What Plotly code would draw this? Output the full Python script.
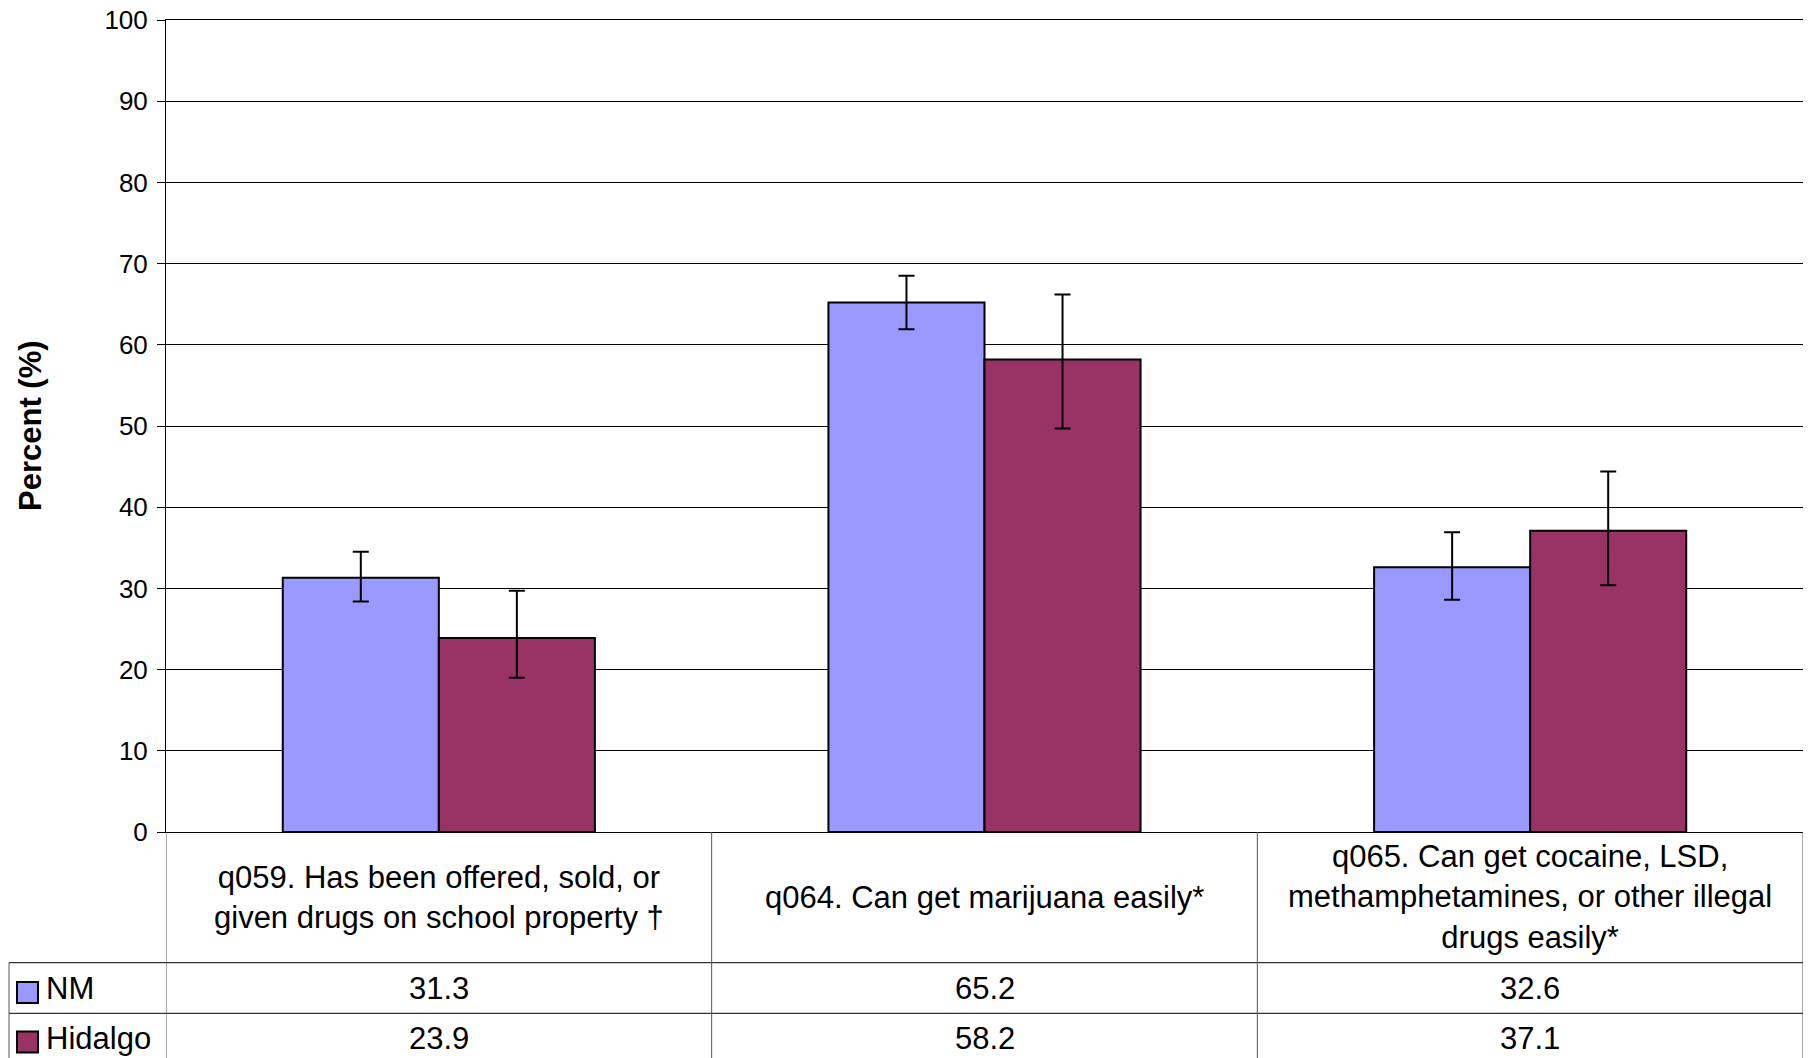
import plotly.graph_objects as go

# ---------------- data ----------------
categories = [
    "q059. Has been offered, sold, or<br>given drugs on school property †",
    "q064. Can get marijuana easily*",
    "q065. Can get cocaine, LSD,<br>methamphetamines, or other illegal<br>drugs easily*",
]
series_names = ["NM", "Hidalgo"]
nm_values = [31.3, 65.2, 32.6]
hidalgo_values = [23.9, 58.2, 37.1]
nm_ci_lower = [28.4, 61.9, 28.6]
nm_ci_upper = [34.5, 68.5, 36.9]
hidalgo_ci_lower = [19.0, 49.7, 30.4]
hidalgo_ci_upper = [29.7, 66.2, 44.4]
y_ticks = list(range(0, 101, 10))
y_title = "Percent (%)"

# ---------------- styles ----------------
colors = ["#9999FF", "#993366"]
FONT = "Arial, Liberation Sans, sans-serif"
# the page body has an 8px margin, so the figure is offset by 8px
OFF = 8
W, H = 1811 - OFF, 1058 - OFF
PLOT_L, PLOT_R, PLOT_T, PLOT_B = 166, 1803, 20, 832   # page pixels
ML = PLOT_L - OFF
MR = (W + OFF) - PLOT_R
MT = PLOT_T - OFF
MB = (H + OFF) - PLOT_B
plot_w = PLOT_R - PLOT_L
plot_h = PLOT_B - PLOT_T


def py(pix):
    """page pixel row -> paper y"""
    return (PLOT_B - pix) / plot_h


def px(pix):
    """page pixel column -> paper x"""
    return (pix - PLOT_L) / plot_w


fig = go.Figure()
series = [
    (nm_values, nm_ci_lower, nm_ci_upper),
    (hidalgo_values, hidalgo_ci_lower, hidalgo_ci_upper),
]
for name, color, (vals, lo, hi) in zip(series_names, colors, series):
    fig.add_trace(go.Bar(
        name=name,
        x=categories,
        y=vals,
        marker=dict(color=color, line=dict(color="black", width=2)),
        error_y=dict(
            type="data", symmetric=False,
            array=[h - v for h, v in zip(hi, vals)],
            arrayminus=[v - l for v, l in zip(vals, lo)],
            color="black", thickness=2, width=8,
        ),
        showlegend=False,
    ))

# ---------------- table below the plot ----------------
row1 = py(962.7)
row2 = py(1013.3)
bottom = py(1075)
table_left = px(9)
grid_h = dict(color="black", width=1)
grid_v = dict(color="#555555", width=1)
shapes = []
for yy in (row1, row2):
    shapes.append(dict(type="line", xref="paper", yref="paper",
                       x0=table_left, x1=1, y0=yy, y1=yy, line=grid_h))
shapes.append(dict(type="line", xref="paper", yref="paper",
                   x0=table_left, x1=table_left, y0=row1, y1=bottom, line=grid_v))
for xb in (-0.5, 0.5, 1.5, 2.5):
    shapes.append(dict(type="line", xref="x", yref="paper",
                       x0=xb, x1=xb, y0=0, y1=bottom, line=grid_v))

row_centers = [py(988), py(1038)]
swatch_tops = [982, 1031.5]
annotations = []
for i, cat in enumerate(categories):
    annotations.append(dict(x=i, y=py(897), xref="x", yref="paper",
                            text=cat, showarrow=False, align="center",
                            xanchor="center", yanchor="middle",
                            font=dict(family=FONT, size=31, color="black")))
for r, (name, color, (vals, lo, hi)) in enumerate(zip(series_names, colors, series)):
    yc = row_centers[r]
    for i, v in enumerate(vals):
        annotations.append(dict(x=i, y=yc, xref="x", yref="paper",
                                text=f"{v:.1f}", showarrow=False,
                                xanchor="center", yanchor="middle",
                                font=dict(family=FONT, size=31, color="black")))
    annotations.append(dict(x=px(44), y=yc, xref="paper", yref="paper",
                            text=name, showarrow=False,
                            xanchor="left", yanchor="middle",
                            font=dict(family=FONT, size=31, color="black")))
    st = swatch_tops[r]
    shapes.append(dict(type="rect", xref="paper", yref="paper",
                       x0=px(17), x1=px(38), y0=py(st), y1=py(st + 21),
                       fillcolor=color, line=dict(color="black", width=2)))

# y-axis title
annotations.append(dict(x=px(30), y=0.5, xref="paper", yref="paper",
                        text=f"<b>{y_title}</b>", textangle=-90, showarrow=False,
                        xanchor="center", yanchor="middle",
                        font=dict(family=FONT, size=31, color="black")))

fig.update_layout(
    width=W, height=H,
    margin=dict(l=ML, r=MR, t=MT, b=MB, pad=0, autoexpand=False),
    paper_bgcolor="white", plot_bgcolor="white",
    barmode="group", bargap=0.428, bargroupgap=0,
    font=dict(family=FONT, color="black"),
    shapes=shapes, annotations=annotations,
    xaxis=dict(type="category", range=[-0.5, 2.5], showticklabels=False,
               ticks="", showgrid=False, showline=True, linecolor="black",
               linewidth=1, mirror=True, zeroline=False, automargin=False),
    yaxis=dict(range=[0, 100], tickvals=y_ticks, ticks="outside", ticklen=8,
               tickcolor="black", tickwidth=1, ticklabelstandoff=4,
               ticklabeloverflow="allow", automargin=False,
               tickfont=dict(family=FONT, size=26, color="black"),
               showgrid=True, gridcolor="black", gridwidth=1,
               showline=True, linecolor="black", linewidth=1, mirror=True,
               zeroline=False),
)

fig.write_html("out.html")
